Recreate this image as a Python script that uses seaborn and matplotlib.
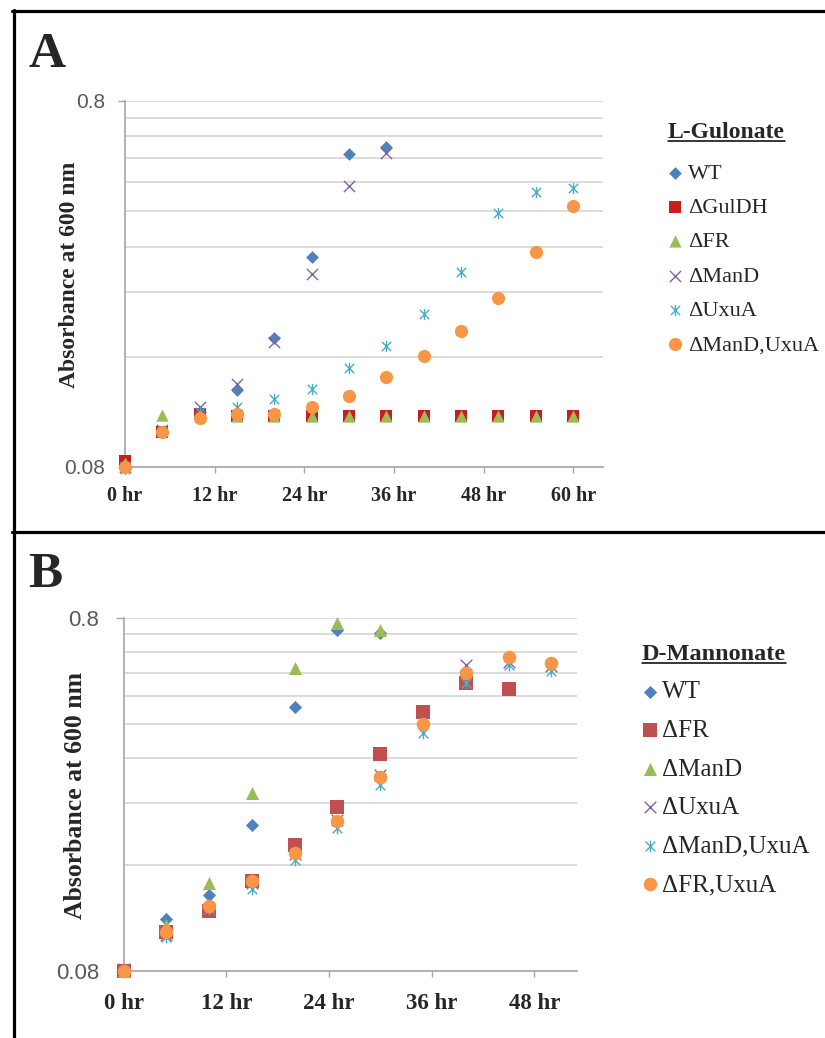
import matplotlib
matplotlib.use("Agg")
import matplotlib.pyplot as plt
import seaborn as sns
from matplotlib.path import Path
from matplotlib.lines import Line2D
from matplotlib.ticker import FixedLocator, NullFormatter

# sampling times (hr)
hours_a = [0, 5, 10, 15, 20, 25, 30, 35, 40, 45, 50, 55, 60]
hours_b = [0, 5, 10, 15, 20, 25, 30, 35, 40, 45, 50]

# panel A: L-Gulonate, absorbance at 600 nm
gul_wt = [0.080, 0.100, 0.113, 0.130, 0.180, 0.300, 0.573, 0.599]
gul_guldh = [0.083, 0.100, 0.112, 0.110, 0.110, 0.110, 0.110, 0.110, 0.110,
             0.110, 0.110, 0.110, 0.110]
gul_fr = [0.082, 0.111, 0.110, 0.110, 0.110, 0.110, 0.110, 0.110, 0.110,
          0.110, 0.110, 0.110, 0.110]
gul_mand = [0.080, 0.101, 0.117, 0.135, 0.176, 0.269, 0.469, 0.577]
gul_uxua = [0.079, 0.100, 0.113, 0.117, 0.123, 0.131, 0.149, 0.171, 0.210,
            0.273, 0.395, 0.451, 0.463]
gul_mand_uxua = [0.080, 0.100, 0.109, 0.112, 0.112, 0.117, 0.125, 0.141, 0.161,
                 0.188, 0.232, 0.309, 0.413]

# panel B: D-Mannonate
man_wt = [0.080, 0.112, 0.131, 0.207, 0.448, 0.740, 0.726]
man_fr = [0.080, 0.103, 0.118, 0.144, 0.182, 0.233, 0.330, 0.434, 0.524, 0.503]
man_mand = [0.080, 0.108, 0.142, 0.255, 0.578, 0.774, 0.740]
man_uxua = [0.081, 0.101, 0.120, 0.142, 0.172, 0.214, 0.288, 0.410, 0.589, 0.600, 0.585]
man_mand_uxua = [0.080, 0.100, 0.120, 0.137, 0.165, 0.203, 0.269, 0.378, 0.524, 0.590, 0.565]
man_fr_uxua = [0.080, 0.103, 0.122, 0.144, 0.173, 0.213, 0.284, 0.401, 0.559, 0.620, 0.597]

BLUE, RED_A, RED, GREEN = "#4F81BD", "#C41E1E", "#C0504D", "#9BBB59"
PURPLE, CYAN, ORANGE = "#8064A2", "#4BACC6", "#F79646"
GRID, AXIS = "#d9d9d9", "#a6a6a6"

# excel-like star marker (x plus a vertical bar)
star = Path([(-1, -1), (1, 1), (-1, 1), (1, -1), (0, -1.2), (0, 1.2)],
            [Path.MOVETO, Path.LINETO] * 3)

sns.set_theme(style="white")
plt.rcParams["font.family"] = ["Liberation Serif", "DejaVu Serif"]

fig = plt.figure(figsize=(8.25, 10.38), dpi=100)
W, H = 825.0, 1038.0


def panel(rect, hours, series, xmax, xt, fs):
    ax = fig.add_axes(rect)
    for name, vals, marker, color, size, lw in series:
        sns.scatterplot(x=hours[:len(vals)], y=vals, marker=marker, color=color,
                        edgecolor=color, s=size, linewidth=lw, label=name,
                        ax=ax, clip_on=False, zorder=3)
    ax.set_yscale("log")
    ax.set_ylim(0.08, 0.8)
    ax.set_xlim(0, xmax)
    ax.set_yticks([0.08, 0.8])
    ax.set_yticklabels(["0.08", "0.8"])
    ax.yaxis.set_minor_locator(FixedLocator([0.08 * k for k in range(2, 10)]))
    ax.yaxis.set_minor_formatter(NullFormatter())
    ax.set_xticks(xt)
    ax.set_xticklabels([f"{h} hr" for h in xt], fontweight="bold", fontsize=fs["xt"])
    for lab in ax.get_yticklabels():
        lab.set_fontfamily("Liberation Sans")
        lab.set_fontsize(fs["yt"])
        lab.set_color("#595959")
    ax.set_axisbelow(True)
    ax.grid(True, which="both", axis="y", color=GRID, lw=1.3)
    ax.grid(False, axis="x")
    for s in ("top", "right"):
        ax.spines[s].set_visible(False)
    for s in ("left", "bottom"):
        ax.spines[s].set_color(AXIS)
        ax.spines[s].set_linewidth(1.2)
    ax.tick_params(axis="x", which="major", direction="out", length=4, width=1,
                   color=AXIS, pad=fs["xpad"], bottom=True)
    ax.tick_params(axis="y", which="major", direction="out", length=fs["ylen"], width=1,
                   color=AXIS, pad=fs["ypad"], left=True)
    ax.tick_params(axis="y", which="minor", length=0)
    ax.set_xlabel("")
    ax.set_ylabel("Absorbance at 600 nm", fontweight="bold", fontsize=fs["yl"])
    ax.yaxis.set_label_coords(*fs["ylpos"])
    return ax


def legend(ax, title, anchor, fs, tfs, spacing, tpad):
    leg = ax.legend(loc="upper left", bbox_to_anchor=anchor, bbox_transform=fig.transFigure,
                    frameon=False, title=title,
                    title_fontproperties={"weight": "bold", "size": tfs,
                                          "family": "Liberation Serif"},
                    prop={"size": fs, "family": "Liberation Serif"},
                    alignment="left", handlelength=0.6, handletextpad=tpad,
                    labelspacing=spacing, borderpad=0, borderaxespad=0, scatterpoints=1)
    return leg


series_a = [
    ("WT", gul_wt, "D", BLUE, 42, 0),
    ("ΔGulDH", gul_guldh, "s", RED_A, 80, 0),
    ("ΔFR", gul_fr, "^", GREEN, 78, 0),
    ("ΔManD", gul_mand, "x", PURPLE, 65, 1.0),
    ("ΔUxuA", gul_uxua, star, CYAN, 65, 1.0),
    ("ΔManD,UxuA", gul_mand_uxua, "o", ORANGE, 90, 0),
]
series_b = [
    ("WT", man_wt, "D", BLUE, 45, 0),
    ("ΔFR", man_fr, "s", RED, 95, 0),
    ("ΔManD", man_mand, "^", GREEN, 88, 0),
    ("ΔUxuA", man_uxua, "x", PURPLE, 70, 1.0),
    ("ΔManD,UxuA", man_mand_uxua, star, CYAN, 70, 1.0),
    ("ΔFR,UxuA", man_fr_uxua, "o", ORANGE, 95, 0),
]

fs_a = dict(xt=14.5, yt=15, yl=17, xpad=9.5, ypad=9.5, ylen=5, ylpos=(-0.094, 0.525))
fs_b = dict(xt=16.5, yt=16, yl=18.5, xpad=12, ypad=11.5, ylen=6, ylpos=(-0.081, 0.496))

ax_a = panel([125 / W, 1 - 467 / H, 478 / W, 366 / H], hours_a, series_a, 64,
             [0, 12, 24, 36, 48, 60], fs_a)
ax_b = panel([123.6 / W, 1 - 971 / H, 453.4 / W, 353 / H], hours_b, series_b, 53,
             [0, 12, 24, 36, 48], fs_b)

leg_a = legend(ax_a, "L-Gulonate", (668 / W, 1 - 122 / H), 16, 17, 0.62, 0.3)
leg_a._legend_box.sep += 4.5  # a little more room under the title
leg_b = legend(ax_b, "D-Mannonate", (642 / W, 1 - 644 / H), 18, 17.5, 0.64, 0.2)

# panel letters
fig.text(28 / W, 1 - 67 / H, "A", fontsize=37, fontweight="bold", va="baseline")
fig.text(28 / W, 1 - 587 / H, "B", fontsize=37, fontweight="bold", va="baseline")

# panel frames
for yy in (11, 532):
    fig.add_artist(Line2D([12 / W, 1], [1 - yy / H] * 2, transform=fig.transFigure,
                          color="black", lw=2.3))
fig.add_artist(Line2D([13.5 / W] * 2, [0, 1 - 10 / H], transform=fig.transFigure,
                      color="black", lw=2.3))

# underline the legend titles
fig.canvas.draw()
renderer = fig.canvas.get_renderer()
for leg, tfs in ((leg_a, 17), (leg_b, 17.5)):
    bb = leg.get_title().get_window_extent(renderer)
    y = bb.y0 + 0.09 * tfs * 100 / 72
    fig.add_artist(Line2D([bb.x0 / W, bb.x1 / W], [y / H, y / H], transform=fig.transFigure,
                          color="black", lw=1.1))

fig.savefig("out.png", dpi=100)
